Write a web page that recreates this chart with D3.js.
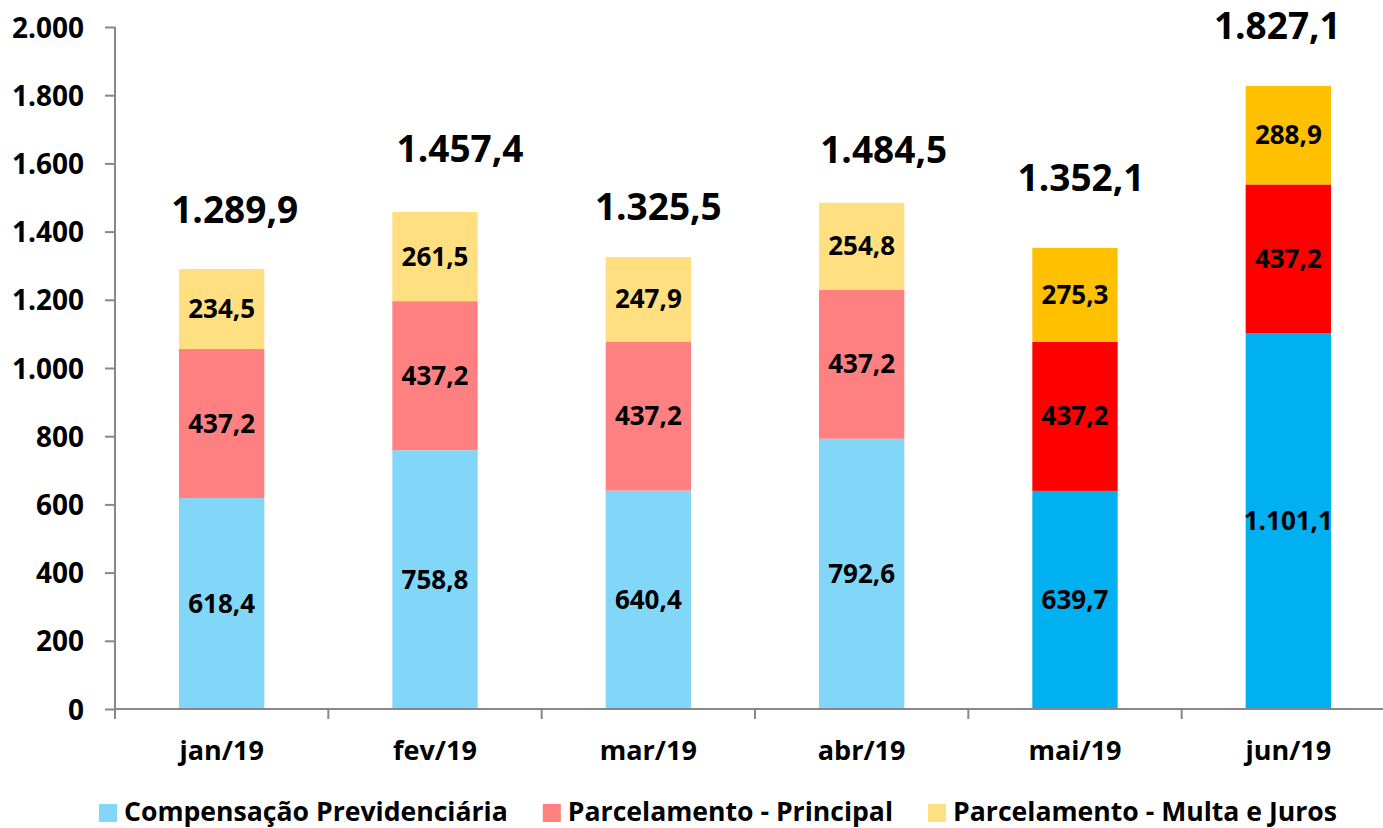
<!DOCTYPE html>
<html>
<head>
<meta charset="utf-8">
<script src="https://cdn.jsdelivr.net/npm/d3@7"></script>
<style>
  body { margin: 0; background: #fff; }
  text { font-family: "Open Sans", "Noto Sans", sans-serif; font-weight: bold; fill: #000; }
  .axis path, .axis line { stroke: #878787; stroke-width: 2; }
</style>
</head>
<body>
<script>
/** Chart data */
const months = ["jan/19", "fev/19", "mar/19", "abr/19", "mai/19", "jun/19"];
const seriesNames = ["Compensação Previdenciária", "Parcelamento - Principal", "Parcelamento - Multa e Juros"];
const compensacao = [618.4, 758.8, 640.4, 792.6, 639.7, 1101.1];
const principal = [437.2, 437.2, 437.2, 437.2, 437.2, 437.2];
const multaJuros = [234.5, 261.5, 247.9, 254.8, 275.3, 288.9];
const totals = [1289.9, 1457.4, 1325.5, 1484.5, 1352.1, 1827.1];
const yTicks = [0, 200, 400, 600, 800, 1000, 1200, 1400, 1600, 1800, 2000];

/** Layout / style */
const width = 1383;
const height = 828;
const margin = { left: 115, right: 1395, top: 27, bottom: 709 };
// first four months are drawn in the lighter tints, the last two in full colour
const lightColors = ["#82D6F7", "#FF8080", "#FFDF80"];
const strongColors = ["#00B0F0", "#FF0000", "#FFC000"];
// hand-placed total labels: [dx from bar centre, dy from bar top]
const totalNudge = [[13, -46], [25, -50], [10, -37], [22, -40], [6, -57], [-11, -47]];

const locale = d3.formatLocale({ decimal: ",", thousands: ".", grouping: [3], currency: ["R$", ""] });
const fmtInt = locale.format(",.0f");
const fmt1 = locale.format(",.1f");

const svg = d3.select("body").append("svg")
    .attr("width", width)
    .attr("height", height);

const x_scale = d3.scaleBand()
    .domain(months)
    .range([margin.left, margin.right])
    .paddingInner(0.6)
    .paddingOuter(0.3);

const y_scale = d3.scaleLinear()
    .domain([0, 2000])
    .range([margin.bottom, margin.top]);

// stacked data
const rows = months.map((m, i) => ({ month: m, i: i, s0: compensacao[i], s1: principal[i], s2: multaJuros[i] }));
const stack = d3.stack().keys(["s0", "s1", "s2"])(rows);

stack.forEach((layer, k) => {
    const g = svg.append("g");
    g.selectAll("rect")
        .data(layer)
        .enter()
        .append("rect")
        .attr("x", d => x_scale(d.data.month))
        .attr("width", x_scale.bandwidth())
        .attr("y", d => y_scale(d[1]))
        .attr("height", d => y_scale(d[0]) - y_scale(d[1]))
        .attr("fill", d => d.data.i < 4 ? lightColors[k] : strongColors[k]);
    g.selectAll("text")
        .data(layer)
        .enter()
        .append("text")
        .attr("x", d => x_scale(d.data.month) + x_scale.bandwidth() / 2)
        .attr("y", d => (y_scale(d[0]) + y_scale(d[1])) / 2 + 9)
        .attr("text-anchor", "middle")
        .style("font-size", "26px")
        .text(d => fmt1(d[1] - d[0]));
});

// totals
svg.append("g").selectAll("text")
    .data(totals)
    .enter()
    .append("text")
    .attr("x", (d, i) => x_scale(months[i]) + x_scale.bandwidth() / 2 + totalNudge[i][0])
    .attr("y", (d, i) => y_scale(d) + totalNudge[i][1])
    .attr("text-anchor", "middle")
    .style("font-size", "37px")
    .text(d => fmt1(d));

// axes
const y_axis = d3.axisLeft(y_scale).tickValues(yTicks).tickSize(10).tickPadding(21).tickFormat(fmtInt);
svg.append("g")
    .attr("class", "axis")
    .attr("transform", "translate(" + margin.left + ",0)")
    .call(y_axis)
    .call(g => g.select(".domain").attr("d", "M0," + margin.top + "V" + margin.bottom))
    .selectAll("text").style("font-size", "28px").attr("dy", "0.36em");

// x axis with ticks between categories
const bounds = d3.range(months.length + 1).map(i => margin.left + i * (margin.right - margin.left) / months.length);
const xg = svg.append("g").attr("class", "axis");
xg.append("path")
    .attr("d", "M" + margin.left + "," + margin.bottom + "H" + margin.right)
    .attr("fill", "none");
xg.selectAll("line")
    .data(bounds)
    .enter()
    .append("line")
    .attr("x1", d => d).attr("x2", d => d)
    .attr("y1", margin.bottom).attr("y2", margin.bottom + 10);
xg.selectAll("text")
    .data(months)
    .enter()
    .append("text")
    .attr("x", d => x_scale(d) + x_scale.bandwidth() / 2)
    .attr("y", 760)
    .attr("text-anchor", "middle")
    .style("font-size", "27px")
    .text(d => d);

// legend
const legend = svg.append("g");
let lx = 99;
seriesNames.forEach((name, k) => {
    legend.append("rect")
        .attr("x", lx).attr("y", 804)
        .attr("width", 18).attr("height", 18)
        .attr("fill", lightColors[k]);
    const t = legend.append("text")
        .attr("x", lx + 25).attr("y", 821)
        .style("font-size", "26.6px")
        .text(name);
    lx += 25 + t.node().getComputedTextLength() + 35;
});
</script>
</body>
</html>
